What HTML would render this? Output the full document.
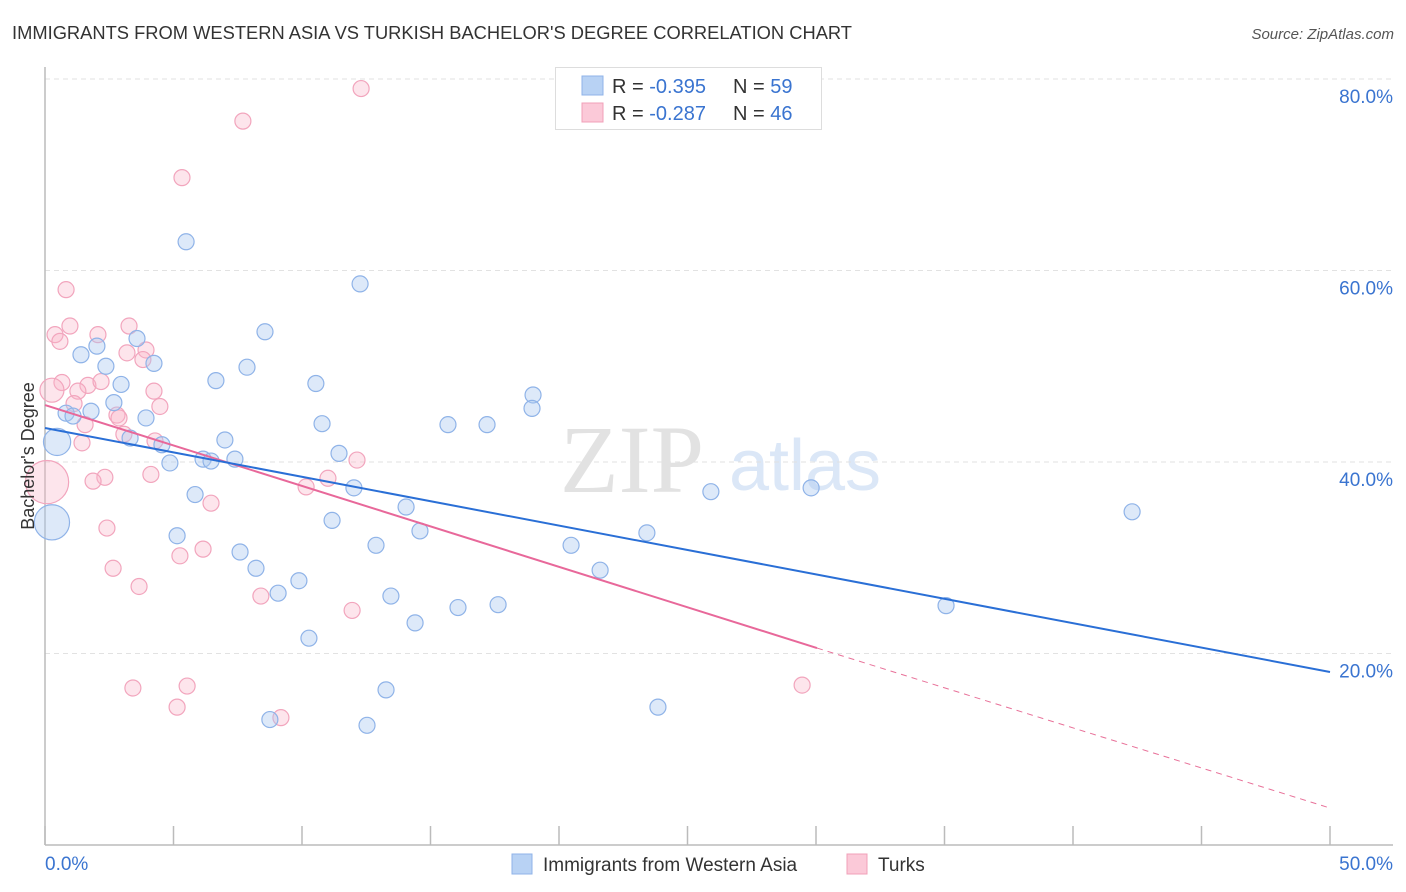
<!DOCTYPE html>
<html><head><meta charset="utf-8"><style>
body{margin:0;background:#fff;font-family:"Liberation Sans",sans-serif}
svg{display:block}
</style></head><body>
<svg id="chart" width="1406" height="892">
<text x="12" y="39" font-size="18" fill="#333" textLength="840" lengthAdjust="spacingAndGlyphs">IMMIGRANTS FROM WESTERN ASIA VS TURKISH BACHELOR'S DEGREE CORRELATION CHART</text>
<text x="1394" y="39" font-size="15" fill="#555" font-style="italic" text-anchor="end">Source: ZipAtlas.com</text>
<text x="632" y="492" font-size="96" fill="#e2e2e2" font-family="Liberation Serif,serif" text-anchor="middle">ZIP</text>
<text x="805" y="490" font-size="72" fill="#dbe7f7" text-anchor="middle">atlas</text>
<g id="grid"></g>
<g id="axes"></g>
<g id="marks"></g>
<text transform="translate(34,456) rotate(-90)" font-size="18" fill="#333" text-anchor="middle">Bachelor's Degree</text>
<g>
<rect x="555.5" y="67.5" width="266" height="62" fill="#fff" stroke="#ddd"/>
<rect x="582" y="76" width="21" height="19" fill="#b8d2f4" stroke="#8fb3e8"/>
<rect x="582" y="103" width="21" height="19" fill="#fbc9d8" stroke="#f0a0b8"/>
<text x="612" y="93" font-size="20" fill="#333">R = <tspan fill="#3a74d0">-0.395</tspan><tspan x="733">N = </tspan><tspan fill="#3a74d0">59</tspan></text>
<text x="612" y="120" font-size="20" fill="#333">R = <tspan fill="#3a74d0">-0.287</tspan><tspan x="733">N = </tspan><tspan fill="#3a74d0">46</tspan></text>
</g>
<g>
<rect x="512" y="854" width="20" height="20" fill="#b8d2f4" stroke="#8fb3e8"/>
<text x="543" y="871" font-size="19" fill="#333">Immigrants from Western Asia</text>
<rect x="847" y="854" width="20" height="20" fill="#fbc9d8" stroke="#f0a0b8"/>
<text x="878" y="871" font-size="19" fill="#333">Turks</text>
</g>
</svg>
<script>
const xTicks=[0,5,10,15,20,25,30,35,40,45,50];
const yTicks=[20,40,60,80];
const yTickLabels=["20.0%","40.0%","60.0%","80.0%"];
const blueX=[5.49,12.26,8.56,3.58,2.02,1.40,4.24,2.37,7.86,6.65,2.96,10.54,18.99,2.68,18.95,0.82,1.79,1.09,3.93,10.78,15.68,17.20,3.31,7.00,0.47,4.55,11.44,6.15,7.39,6.46,4.86,12.02,25.91,29.81,5.84,14.05,42.30,11.17,14.59,5.14,23.42,0.27,12.88,20.47,7.59,8.21,21.60,9.88,9.07,13.46,17.63,16.07,35.06,14.40,10.27,13.27,23.85,8.75,12.53];
const blueY=[63.0,58.6,53.6,52.9,52.1,51.2,50.3,50.0,49.9,48.5,48.1,48.2,47.0,46.2,45.6,45.1,45.3,44.8,44.6,44.0,43.9,43.9,42.5,42.3,42.1,41.8,40.9,40.3,40.3,40.1,39.9,37.3,36.9,37.3,36.6,35.3,34.8,33.9,32.8,32.3,32.6,33.7,31.3,31.3,30.6,28.9,28.7,27.6,26.3,26.0,25.1,24.8,25.0,23.2,21.6,16.2,14.4,13.1,12.5];
const blueSize=[1,1,1,1,1,1,1,1,1,1,1,1,1,1,1,1,1,1,1,1,1,1,1,1,1.7,1,1,1,1,1,1,1,1,1,1,1,1,1,1,1,1,2.2,1,1,1,1,1,1,1,1,1,1,1,1,1,1,1,1,1];
const pinkX=[12.30,7.70,5.33,0.82,0.97,2.06,0.39,3.27,0.58,3.93,3.19,3.81,0.66,1.67,2.18,1.28,0.27,4.24,1.13,4.47,2.80,2.88,1.56,3.07,4.28,1.44,12.14,11.01,4.12,2.33,1.87,0.08,10.16,6.46,2.41,6.15,5.25,2.65,3.66,8.40,11.95,29.46,3.42,5.53,5.14,9.18];
const pinkY=[79.0,75.6,69.7,58.0,54.2,53.3,53.3,54.2,52.6,51.7,51.4,50.7,48.3,48.0,48.4,47.4,47.5,47.4,46.1,45.8,44.9,44.6,43.9,42.9,42.2,42.0,40.2,38.3,38.7,38.4,38.0,37.9,37.4,35.7,33.1,30.9,30.2,28.9,27.0,26.0,24.5,16.7,16.4,16.6,14.4,13.3];
const pinkSize=[1,1,1,1,1,1,1,1,1,1,1,1,1,1,1,1,1.5,1,1,1,1,1,1,1,1,1,1,1,1,1,1,2.7,1,1,1,1,1,1,1,1,1,1,1,1,1,1];
const blueTrend=[[0,43.55],[50,18.07]];
const pinkTrend=[[0,45.95],[30.04,20.57]];
const pinkTrendExt=[[30.04,20.57],[50,3.86]];

const NS="http://www.w3.org/2000/svg";
const X0=45,X1=1330,Y0=845,PXY=9.575;
const sx=v=>X0+(X1-X0)*v/50;
const sy=v=>Y0-v*PXY;
function mk(tag,attrs,parent){const e=document.createElementNS(NS,tag);for(const k in attrs)e.setAttribute(k,attrs[k]);document.getElementById(parent).appendChild(e);return e;}
yTicks.forEach((t,i)=>{
 const g=mk('line',{x1:X0,x2:1393,y1:sy(t),y2:sy(t),stroke:'#e2e2e2','stroke-dasharray':'5,4'},'grid');
 
 
 const l=mk('text',{x:1393,y:sy(t)+24,'font-size':19,fill:'#3a74d0','text-anchor':'end'},'axes');
 l.textContent=yTickLabels[i];
 
 
});
const ya=mk('line',{x1:X0,x2:X0,y1:67,y2:Y0,stroke:'#bbb','stroke-width':1.5},'axes');


const xa=mk('line',{x1:X0,x2:1393,y1:Y0,y2:Y0,stroke:'#bbb','stroke-width':1.5},'axes');


xTicks.forEach(t=>{
 const l=mk('line',{x1:sx(t),x2:sx(t),y1:826,y2:Y0,stroke:'#bbb','stroke-width':1.5},'axes');
 
 
});
const xl0=mk('text',{x:45,y:870,'font-size':19,fill:'#3a74d0'},'axes');xl0.textContent='0.0%';


const xl1=mk('text',{x:1393,y:870,'font-size':19,fill:'#3a74d0','text-anchor':'end'},'axes');xl1.textContent='50.0%';


pinkX.forEach((v,i)=>{
 const c=mk('circle',{cx:sx(v),cy:sy(pinkY[i]),r:8*pinkSize[i],fill:'rgba(248,180,200,0.35)',stroke:'#f2a5bd','stroke-width':1.2},'marks');
 
 
});
blueX.forEach((v,i)=>{
 const c=mk('circle',{cx:sx(v),cy:sy(blueY[i]),r:8*blueSize[i],fill:'rgba(170,200,240,0.4)',stroke:'#8fb3e8','stroke-width':1.2},'marks');
 
 
});
const pe=mk('line',{x1:sx(pinkTrendExt[0][0]),y1:sy(pinkTrendExt[0][1]),x2:sx(pinkTrendExt[1][0]),y2:sy(pinkTrendExt[1][1]),stroke:'#e87199','stroke-width':1,'stroke-dasharray':'6,5'},'marks');


const pt=mk('line',{x1:sx(pinkTrend[0][0]),y1:sy(pinkTrend[0][1]),x2:sx(pinkTrend[1][0]),y2:sy(pinkTrend[1][1]),stroke:'#e8689a','stroke-width':2},'marks');


const bt=mk('line',{x1:sx(blueTrend[0][0]),y1:sy(blueTrend[0][1]),x2:sx(blueTrend[1][0]),y2:sy(blueTrend[1][1]),stroke:'#2a6fd6','stroke-width':2},'marks');


</script>
</body></html>
